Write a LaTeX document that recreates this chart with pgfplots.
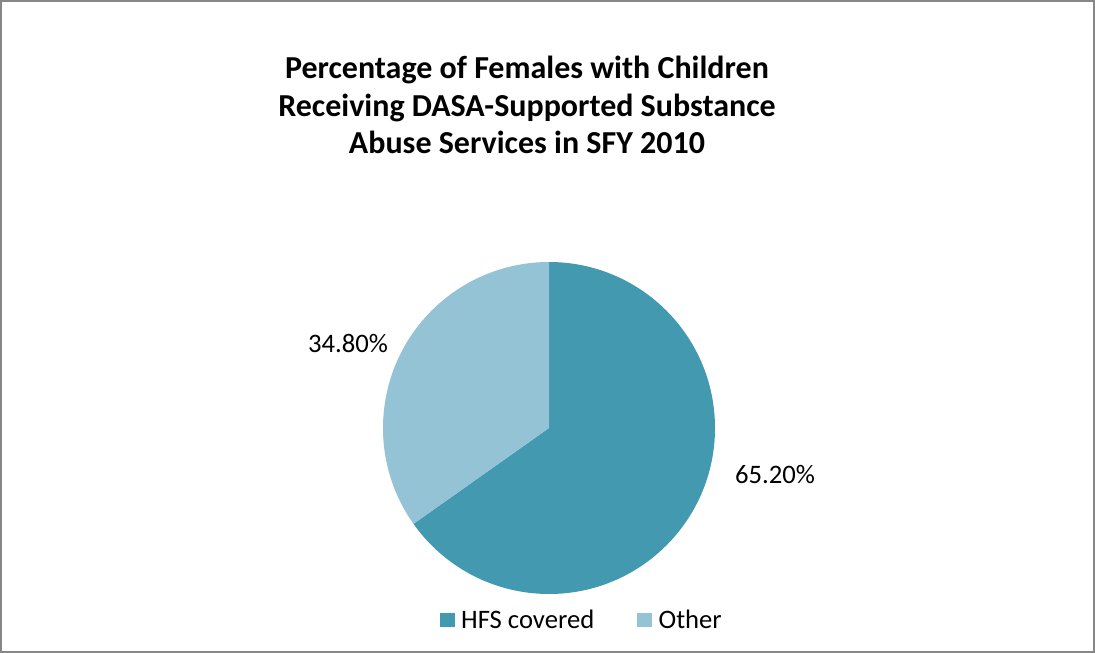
\documentclass[border=0pt]{standalone}
\usepackage{pgfplots}
\pgfplotsset{compat=1.18}
\usepackage{fontspec}
\setmainfont{Carlito}
\definecolor{hfs}{HTML}{4299B0}
\definecolor{oth}{HTML}{93C3D4}
\definecolor{framegray}{HTML}{878787}
\def\hfsval{65.2}
\def\othval{34.8}
\begin{document}
\begin{tikzpicture}[x=0.75pt,y=0.75pt]
\begin{axis}[
  scale only axis, width=821.25pt, height=489.75pt,
  xmin=0,xmax=1095,ymin=0,ymax=653,
  hide axis, clip=false,
  legend columns=2,
  legend style={at={(axis cs:582,33)}, anchor=center, draw=none, fill=none,
    font=\fontsize{20}{22}\selectfont,
    /tikz/every odd column/.append style={column sep=3pt},
    /tikz/every even column/.append style={column sep=30pt}},
  legend image code/.code={\fill[#1,draw=none] (0pt,-5.6pt) rectangle (11.25pt,5.6pt);},
]
\draw[framegray, line width=1.5pt] (axis cs:1,1.5) rectangle (axis cs:1094,652);
\fill[hfs] (axis cs:549,225) -- ++(90:124.5pt) arc[start angle=90, delta angle={-3.6*\hfsval}, radius=124.5pt] -- cycle;
\fill[oth] (axis cs:549,225) -- ++({90-3.6*\hfsval}:124.5pt) arc[start angle={90-3.6*\hfsval}, delta angle={-3.6*\othval}, radius=124.5pt] -- cycle;
\node[font=\fontsize{20}{22}\selectfont] at (axis cs:348,309) {34.80\%};
\node[font=\fontsize{20}{22}\selectfont] at (axis cs:775,178) {65.20\%};
\node[align=center, font=\bfseries\fontsize{24}{28}\selectfont] at (axis cs:527,548) {Percentage of Females with Children\\Receiving DASA-Supported Substance\\Abuse Services in SFY 2010};
\addlegendimage{fill=hfs,draw=none}
\addlegendentry{HFS covered}
\addlegendimage{fill=oth,draw=none}
\addlegendentry{Other}
\end{axis}
\end{tikzpicture}
\end{document}
